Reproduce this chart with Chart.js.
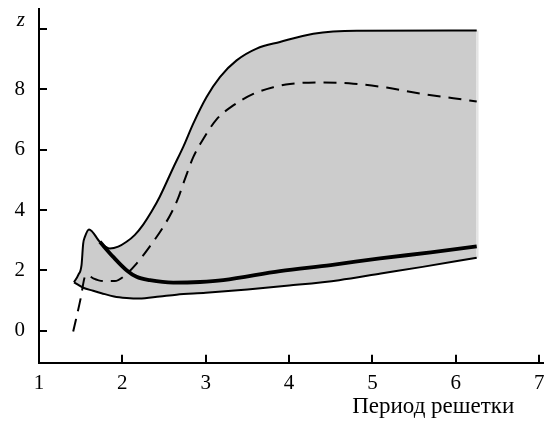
<!DOCTYPE html>
<html>
<head>
<meta charset="utf-8">
<script src="https://cdn.jsdelivr.net/npm/chart.js@4/dist/chart.umd.min.js"></script>
<style>
html,body{margin:0;padding:0;background:#fff;}
#wrap{width:560px;height:421px;position:relative;}
</style>
</head>
<body>
<div id="wrap"><canvas id="c" width="560" height="421"></canvas></div>
<script>
// Upper boundary of the shaded region
const upperX = [1.42,1.47,1.51,1.53,1.55,1.60,1.73,1.85,1.95,2.05,2.15,2.25,2.35,2.45,2.61,2.73,2.85,3.01,3.17,3.37,3.61,3.89,4.29,4.81,6.25];
const upperY = [1.61,1.85,2.18,2.89,3.11,3.36,2.95,2.73,2.79,2.95,3.18,3.52,3.95,4.45,5.40,6.09,6.86,7.74,8.40,8.95,9.34,9.56,9.83,9.93,9.94];
// Lower boundary of the shaded region
const lowerX = [1.42,1.53,1.65,1.75,1.90,2.05,2.20,2.45,2.65,3.00,3.50,4.00,4.60,5.10,5.60,6.25];
const lowerY = [1.61,1.43,1.33,1.25,1.14,1.09,1.07,1.14,1.20,1.26,1.37,1.50,1.68,1.90,2.12,2.42];
// Thick solid curve
const thickX = [1.73,1.89,2.05,2.17,2.33,2.61,2.93,3.21,3.89,4.50,5.09,5.70,6.25];
const thickY = [2.95,2.45,2.01,1.79,1.68,1.60,1.62,1.68,1.98,2.18,2.40,2.60,2.80];
// Dashed curve
const dashX = [1.41,1.50,1.55,1.58,1.65,1.77,1.91,2.01,2.17,2.33,2.49,2.59,2.67,2.75,2.85,2.97,3.13,3.33,3.57,3.81,4.01,4.37,4.77,5.17,5.57,5.97,6.25];
const dashY = [-0.02,1.08,1.79,1.85,1.74,1.65,1.65,1.79,2.23,2.80,3.44,3.92,4.40,5.02,5.75,6.35,7.00,7.46,7.84,8.06,8.17,8.22,8.18,8.05,7.85,7.70,7.59];
// Right edge of the shaded region
const edgeX = [6.26,6.26];
const edgeY = [2.42,9.94];
// Tick labels
const xTicks = [1,2,3,4,5,6,7];
const yTicks = [0,2,4,6,8,10];
const xTitle = 'Период решетки';
const yTopLabel = 'z';

const pts = (xs, ys) => xs.map((x, i) => ({x: x, y: ys[i]}));
const FONT = "'Liberation Serif', 'Times New Roman', serif";

const inwardTicks = {
  id: 'inwardTicks',
  afterDraw(chart) {
    const ctx = chart.ctx, xs = chart.scales.x, ys = chart.scales.y, a = chart.chartArea;
    ctx.save();
    ctx.strokeStyle = '#000';
    ctx.lineWidth = 2;
    ctx.beginPath();
    yTicks.forEach(v => {
      const p = Math.round(ys.getPixelForValue(v));
      ctx.moveTo(a.left, p); ctx.lineTo(a.left + 8, p);
    });
    xTicks.forEach(v => {
      if (v === xs.min) return;
      const p = Math.round(xs.getPixelForValue(v));
      ctx.moveTo(p, a.bottom); ctx.lineTo(p, a.bottom - 8);
    });
    ctx.stroke();
    ctx.restore();
  }
};

new Chart(document.getElementById('c'), {
  type: 'line',
  data: {
    datasets: [
      {data: pts(upperX, upperY), borderColor: '#000', borderWidth: 2, backgroundColor: '#cccccc',
       fill: 1, pointRadius: 0, cubicInterpolationMode: 'monotone'},
      {data: pts(lowerX, lowerY), borderColor: '#000', borderWidth: 2, fill: false,
       pointRadius: 0, cubicInterpolationMode: 'monotone'},
      {data: pts(thickX, thickY), borderColor: '#000', borderWidth: 3.8, fill: false,
       pointRadius: 0, cubicInterpolationMode: 'monotone'},
      {data: pts(dashX, dashY), borderColor: '#000', borderWidth: 2, borderDash: [13, 8], fill: false,
       pointRadius: 0, cubicInterpolationMode: 'monotone'},
      {data: pts(edgeX, edgeY), borderColor: '#e4e4e4', borderWidth: 2, fill: false, pointRadius: 0}
    ]
  },
  options: {
    responsive: false,
    animation: false,
    layout: {padding: {left: 0, right: 17, top: 9, bottom: 0}},
    plugins: {
      legend: {display: false},
      tooltip: {enabled: false},
      filler: {drawTime: 'beforeDatasetsDraw'}
    },
    scales: {
      x: {
        type: 'linear', min: 1, max: 7.045,
        afterBuildTicks: s => { s.ticks = xTicks.map(v => ({value: v})); },
        afterFit: s => { s.height = 58.3; s.paddingLeft = 0; s.paddingRight = 0; },
        grid: {display: false, drawTicks: false},
        border: {display: true, color: '#000', width: 2},
        ticks: {color: '#000', padding: 8, font: {family: FONT, size: 21}},
        title: {display: true, text: xTitle + '\u00a0\u00a0\u00a0\u00a0\u00a0', align: 'end', color: '#000',
                padding: {top: 0, bottom: 0}, font: {family: FONT, size: 23}}
      },
      y: {
        type: 'linear', min: -1.05, max: 10.65,
        afterBuildTicks: s => { s.ticks = yTicks.map(v => ({value: v})); },
        afterFit: s => { s.width = 39; s.paddingTop = 0; s.paddingBottom = 0; },
        grid: {display: false, drawTicks: false},
        border: {display: true, color: '#000', width: 2},
        ticks: {
          color: '#000', padding: 14,
          font: ctx => (ctx.tick && ctx.tick.value === 10)
            ? {family: FONT, size: 21, style: 'italic', lineHeight: 0.75}
            : {family: FONT, size: 21, style: 'normal'},
          callback: v => v === 10 ? [yTopLabel, ''] : String(v)
        }
      }
    }
  },
  plugins: [inwardTicks]
});
</script>
</body>
</html>
